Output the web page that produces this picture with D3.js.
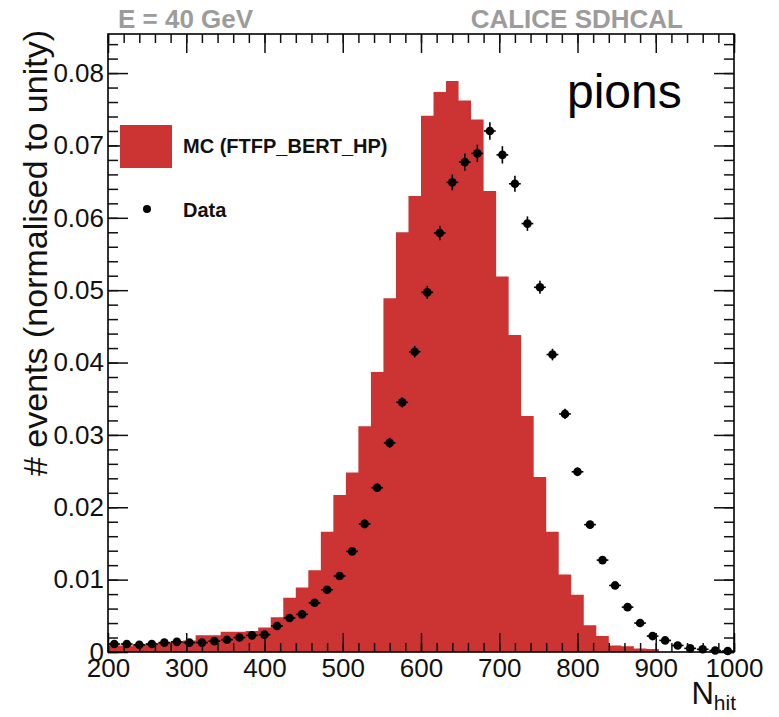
<!DOCTYPE html>
<html>
<head>
<meta charset="utf-8">
<script src="https://cdn.jsdelivr.net/npm/d3@7"></script>
<style>
  body { margin: 0; background: #fff; }
  svg text { font-family: "Liberation Sans", Arial, Helvetica, sans-serif; }
</style>
</head>
<body>
<div id="chart"></div>
<script>
// 50 bins of 16 hits between 200 and 1000
var binLow = 200, binWidth = 16, nBins = 50;

// MC (FTFP_BERT_HP), normalised to unity
var mcValues = [
  0.0009, 0.0009, 0.0010, 0.0012, 0.0013, 0.0014, 0.0016, 0.0023, 0.0023, 0.0028,
  0.0028, 0.0029, 0.0034, 0.0048, 0.0075, 0.0089, 0.0113, 0.0166, 0.0217, 0.0248,
  0.0312, 0.0387, 0.0489, 0.0580, 0.0630, 0.0741, 0.0774, 0.0789, 0.0762, 0.0736,
  0.0637, 0.0519, 0.0438, 0.0326, 0.0242, 0.0166, 0.0107, 0.0079, 0.0037, 0.0022,
  0.0009, 0.0008, 0.0005, 0.0004, 0, 0, 0, 0, 0, 0
];

// data points and their vertical errors
var dataValues = [
  0.0011, 0.0011, 0.0010, 0.0011, 0.0013, 0.0014, 0.0013, 0.0013, 0.0015, 0.0017,
  0.0020, 0.0023, 0.0024, 0.0036, 0.0047, 0.0052, 0.0068, 0.0086, 0.0105, 0.0139,
  0.0177, 0.0227, 0.0289, 0.0345, 0.0415, 0.0497, 0.0579, 0.0649, 0.0677, 0.0689,
  0.0720, 0.0687, 0.0647, 0.0592, 0.0504, 0.0411, 0.0329, 0.0249, 0.0176, 0.0127,
  0.0092, 0.0062, 0.0040, 0.0022, 0.0016, 0.0009, 0.0005, 0.00037, 0.0002, 0.00014
];
var dataErrors = [
  0.0002, 0.0002, 0.0002, 0.0002, 0.0002, 0.0002, 0.0002, 0.0002, 0.0002, 0.0002,
  0.0002, 0.0003, 0.0003, 0.0003, 0.0003, 0.0004, 0.0004, 0.0004, 0.0005, 0.0005,
  0.0006, 0.0006, 0.0007, 0.0007, 0.0008, 0.0009, 0.0010, 0.0011, 0.0012, 0.0012,
  0.0012, 0.0012, 0.0011, 0.0010, 0.0009, 0.0008, 0.0007, 0.0006, 0.0005, 0.0004,
  0.0004, 0.0003, 0.0003, 0.0002, 0.0002, 0.0002, 0.0002, 0.0002, 0.0002, 0.0002
];

var xTicks = [200, 300, 400, 500, 600, 700, 800, 900, 1000];
var yTicks = [0, 0.01, 0.02, 0.03, 0.04, 0.05, 0.06, 0.07, 0.08];

var svgWidth = 779, svgHeight = 717;
var plotL = 108, plotR = 734, plotT = 34, plotB = 652;

var svg = d3.select("#chart").append("svg")
  .attr("width", svgWidth)
  .attr("height", svgHeight);

var x = d3.scaleLinear().domain([200, 1000]).range([plotL, plotR]);
var y = d3.scaleLinear().domain([0, 0.0854]).range([plotB, plotT]);

// histogram as one stepped polygon
var steps = mcValues.map(function(v, i) { return { e: binLow + i * binWidth, v: v }; });
steps.push({ e: binLow + nBins * binWidth, v: mcValues[nBins - 1] });

var area = d3.area()
  .curve(d3.curveStepAfter)
  .x(function(d) { return x(d.e); })
  .y0(y(0))
  .y1(function(d) { return y(d.v); });

svg.append("path")
  .datum(steps)
  .attr("fill", "#cc3333")
  .attr("stroke", "none")
  .attr("d", area);

// data points with error bars
var pts = dataValues.map(function(v, i) {
  return { c: binLow + (i + 0.5) * binWidth, v: v, e: dataErrors[i] };
});

var gp = svg.append("g").attr("stroke", "#000").attr("stroke-width", 1.6);
gp.selectAll("line.h").data(pts).enter().append("line")
  .attr("x1", function(d) { return x(d.c - binWidth / 2 + 0.5); })
  .attr("x2", function(d) { return x(d.c + binWidth / 2 - 0.5); })
  .attr("y1", function(d) { return y(d.v); })
  .attr("y2", function(d) { return y(d.v); });
gp.selectAll("line.v").data(pts).enter().append("line")
  .attr("x1", function(d) { return x(d.c); })
  .attr("x2", function(d) { return x(d.c); })
  .attr("y1", function(d) { return Math.min(y(d.v - d.e), plotB); })
  .attr("y2", function(d) { return y(d.v + d.e); });
svg.append("g").selectAll("circle").data(pts).enter().append("circle")
  .attr("cx", function(d) { return x(d.c); })
  .attr("cy", function(d) { return y(d.v); })
  .attr("r", 4.3)
  .attr("fill", "#000");

// axes: major + minor ticks pointing inwards on all four sides
function minor(scale, step) {
  var d = scale.domain(), out = [];
  for (var v = d[0]; v <= d[1] + 1e-9; v += step) out.push(+v.toFixed(5));
  return out;
}
var xMinor = minor(x, 20), yMinor = minor(y, 0.002);

function addAxis(axis, tr, size, vals, fmt, pad) {
  var g = svg.append("g").attr("transform", tr)
    .call(axis.tickValues(vals).tickSize(-size).tickPadding(pad).tickFormat(fmt));
  g.select(".domain").remove();
  g.selectAll(".tick line").attr("stroke", "#111").attr("stroke-width", 1.5);
  return g;
}
var none = function() { return ""; };
var yFmt = function(d) { return d === 0 ? "0" : d.toFixed(2); };

addAxis(d3.axisBottom(x), "translate(0," + plotB + ")", 9, xMinor, none, 0);
addAxis(d3.axisTop(x), "translate(0," + plotT + ")", 9, xMinor, none, 0);
addAxis(d3.axisLeft(y), "translate(" + plotL + ",0)", 10, yMinor, none, 0);
addAxis(d3.axisRight(y), "translate(" + plotR + ",0)", 10, yMinor, none, 0);
addAxis(d3.axisTop(x), "translate(0," + plotT + ")", 19, xTicks, none, 0);
addAxis(d3.axisRight(y), "translate(" + plotR + ",0)", 20, yTicks, none, 0);

var gx = addAxis(d3.axisBottom(x), "translate(0," + plotB + ")", 19, xTicks, d3.format("d"), 7);
gx.selectAll("text").attr("font-size", 26).attr("fill", "#111")
  .style("font-family", '"Liberation Sans", Arial, sans-serif');
var gy = addAxis(d3.axisLeft(y), "translate(" + plotL + ",0)", 20, yTicks, yFmt, 4);
gy.selectAll("text").attr("font-size", 26).attr("fill", "#111")
  .style("font-family", '"Liberation Sans", Arial, sans-serif');

// frame
svg.append("rect")
  .attr("x", plotL).attr("y", plotT)
  .attr("width", plotR - plotL).attr("height", plotB - plotT)
  .attr("fill", "none").attr("stroke", "#000").attr("stroke-width", 1.6);

// titles
svg.append("text").attr("x", 118).attr("y", 28)
  .attr("font-size", 26).attr("font-weight", "bold").attr("fill", "#9c9c9c")
  .text("E = 40 GeV");
svg.append("text").attr("x", 683).attr("y", 28).attr("text-anchor", "end")
  .attr("font-size", 26).attr("font-weight", "bold").attr("fill", "#9c9c9c")
  .text("CALICE SDHCAL");
svg.append("text").attr("x", 567).attr("y", 108)
  .attr("font-size", 48).attr("fill", "#000")
  .text("pions");

// axis titles
svg.append("text")
  .attr("transform", "translate(47,253) rotate(-90)")
  .attr("text-anchor", "middle")
  .attr("font-size", 34).attr("fill", "#111")
  .text("# events (normalised to unity)");
var nt = svg.append("text").attr("x", 736).attr("y", 704).attr("text-anchor", "end")
  .attr("fill", "#111");
nt.append("tspan").attr("font-size", 31).text("N");
nt.append("tspan").attr("font-size", 21).attr("dy", 6).text("hit");

// legend
svg.append("rect").attr("x", 120).attr("y", 125).attr("width", 52).attr("height", 43)
  .attr("fill", "#cc3333");
svg.append("text").attr("x", 183).attr("y", 153)
  .attr("font-size", 20).attr("font-weight", "bold").attr("fill", "#111")
  .text("MC (FTFP_BERT_HP)");
svg.append("circle").attr("cx", 147).attr("cy", 209).attr("r", 4).attr("fill", "#000");
svg.append("text").attr("x", 183).attr("y", 217)
  .attr("font-size", 20).attr("font-weight", "bold").attr("fill", "#111")
  .text("Data");
</script>
</body>
</html>
